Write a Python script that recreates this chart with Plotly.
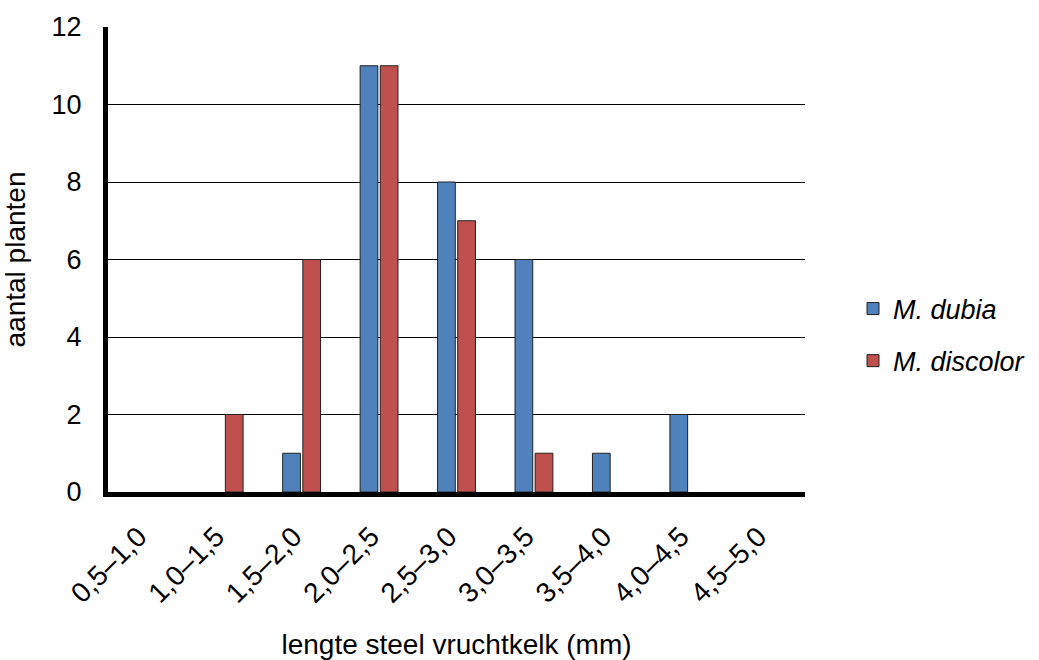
import plotly.graph_objects as go

categories = ["0,5–1,0", "1,0–1,5", "1,5–2,0", "2,0–2,5", "2,5–3,0",
              "3,0–3,5", "3,5–4,0", "4,0–4,5", "4,5–5,0"]
dubia = [0, 0, 1, 11, 8, 6, 1, 2, 0]
discolor = [0, 2, 6, 11, 7, 1, 0, 0, 0]
y_ticks = [0, 2, 4, 6, 8, 10, 12]

FONT = "Liberation Sans, Arial, sans-serif"
L, R, T, B = 108, 234, 27, 168
W, H = 1039, 660
pw = W - L - R
ph = H - T - B


def nz(vals):
    return [v if v != 0 else None for v in vals]


fig = go.Figure()
fig.add_trace(go.Bar(x=categories, y=nz(dubia), name="<i>M. dubia</i>",
                     marker=dict(color="#4F81BD", line=dict(color="#222222", width=1)),
                     legendgroup="a"))
fig.add_trace(go.Bar(x=categories, y=nz(discolor), name="<i>M. discolor</i>",
                     marker=dict(color="#C0504D", line=dict(color="#222222", width=1)),
                     legendgroup="b"))

fig.update_layout(
    width=W, height=H,
    margin=dict(l=L, r=R, t=T, b=B, pad=0, autoexpand=False),
    paper_bgcolor="white", plot_bgcolor="white",
    barmode="group", bargap=0.48, bargroupgap=0.12,
    font=dict(family=FONT, size=27, color="black"),
    legend=dict(x=(853 - L) / pw, xanchor="left", y=(492 - 335) / ph, yanchor="middle",
                font=dict(size=27, family=FONT), tracegroupgap=14,
                bgcolor="rgba(0,0,0,0)"),
    xaxis=dict(
        automargin=False, range=[-0.5, 8.5],
        showline=True, linewidth=5, linecolor="black",
        tickangle=-45, ticks="", ticklabelstandoff=12, ticklabelshift=-8,
        tickfont=dict(size=28),
        title=dict(text="lengte steel vruchtkelk (mm)", font=dict(size=28), standoff=40),
        showgrid=False,
    ),
    yaxis=dict(
        automargin=False,
        range=[0, 12], tickvals=y_ticks,
        showline=True, linewidth=5, linecolor="black",
        showgrid=True, gridcolor="black", gridwidth=1,
        zeroline=False, ticks="", ticklabelstandoff=16,
        tickfont=dict(size=27),
        title=dict(text="aantal planten", font=dict(size=28), standoff=28),
    ),
)

fig.write_html("out.html")
